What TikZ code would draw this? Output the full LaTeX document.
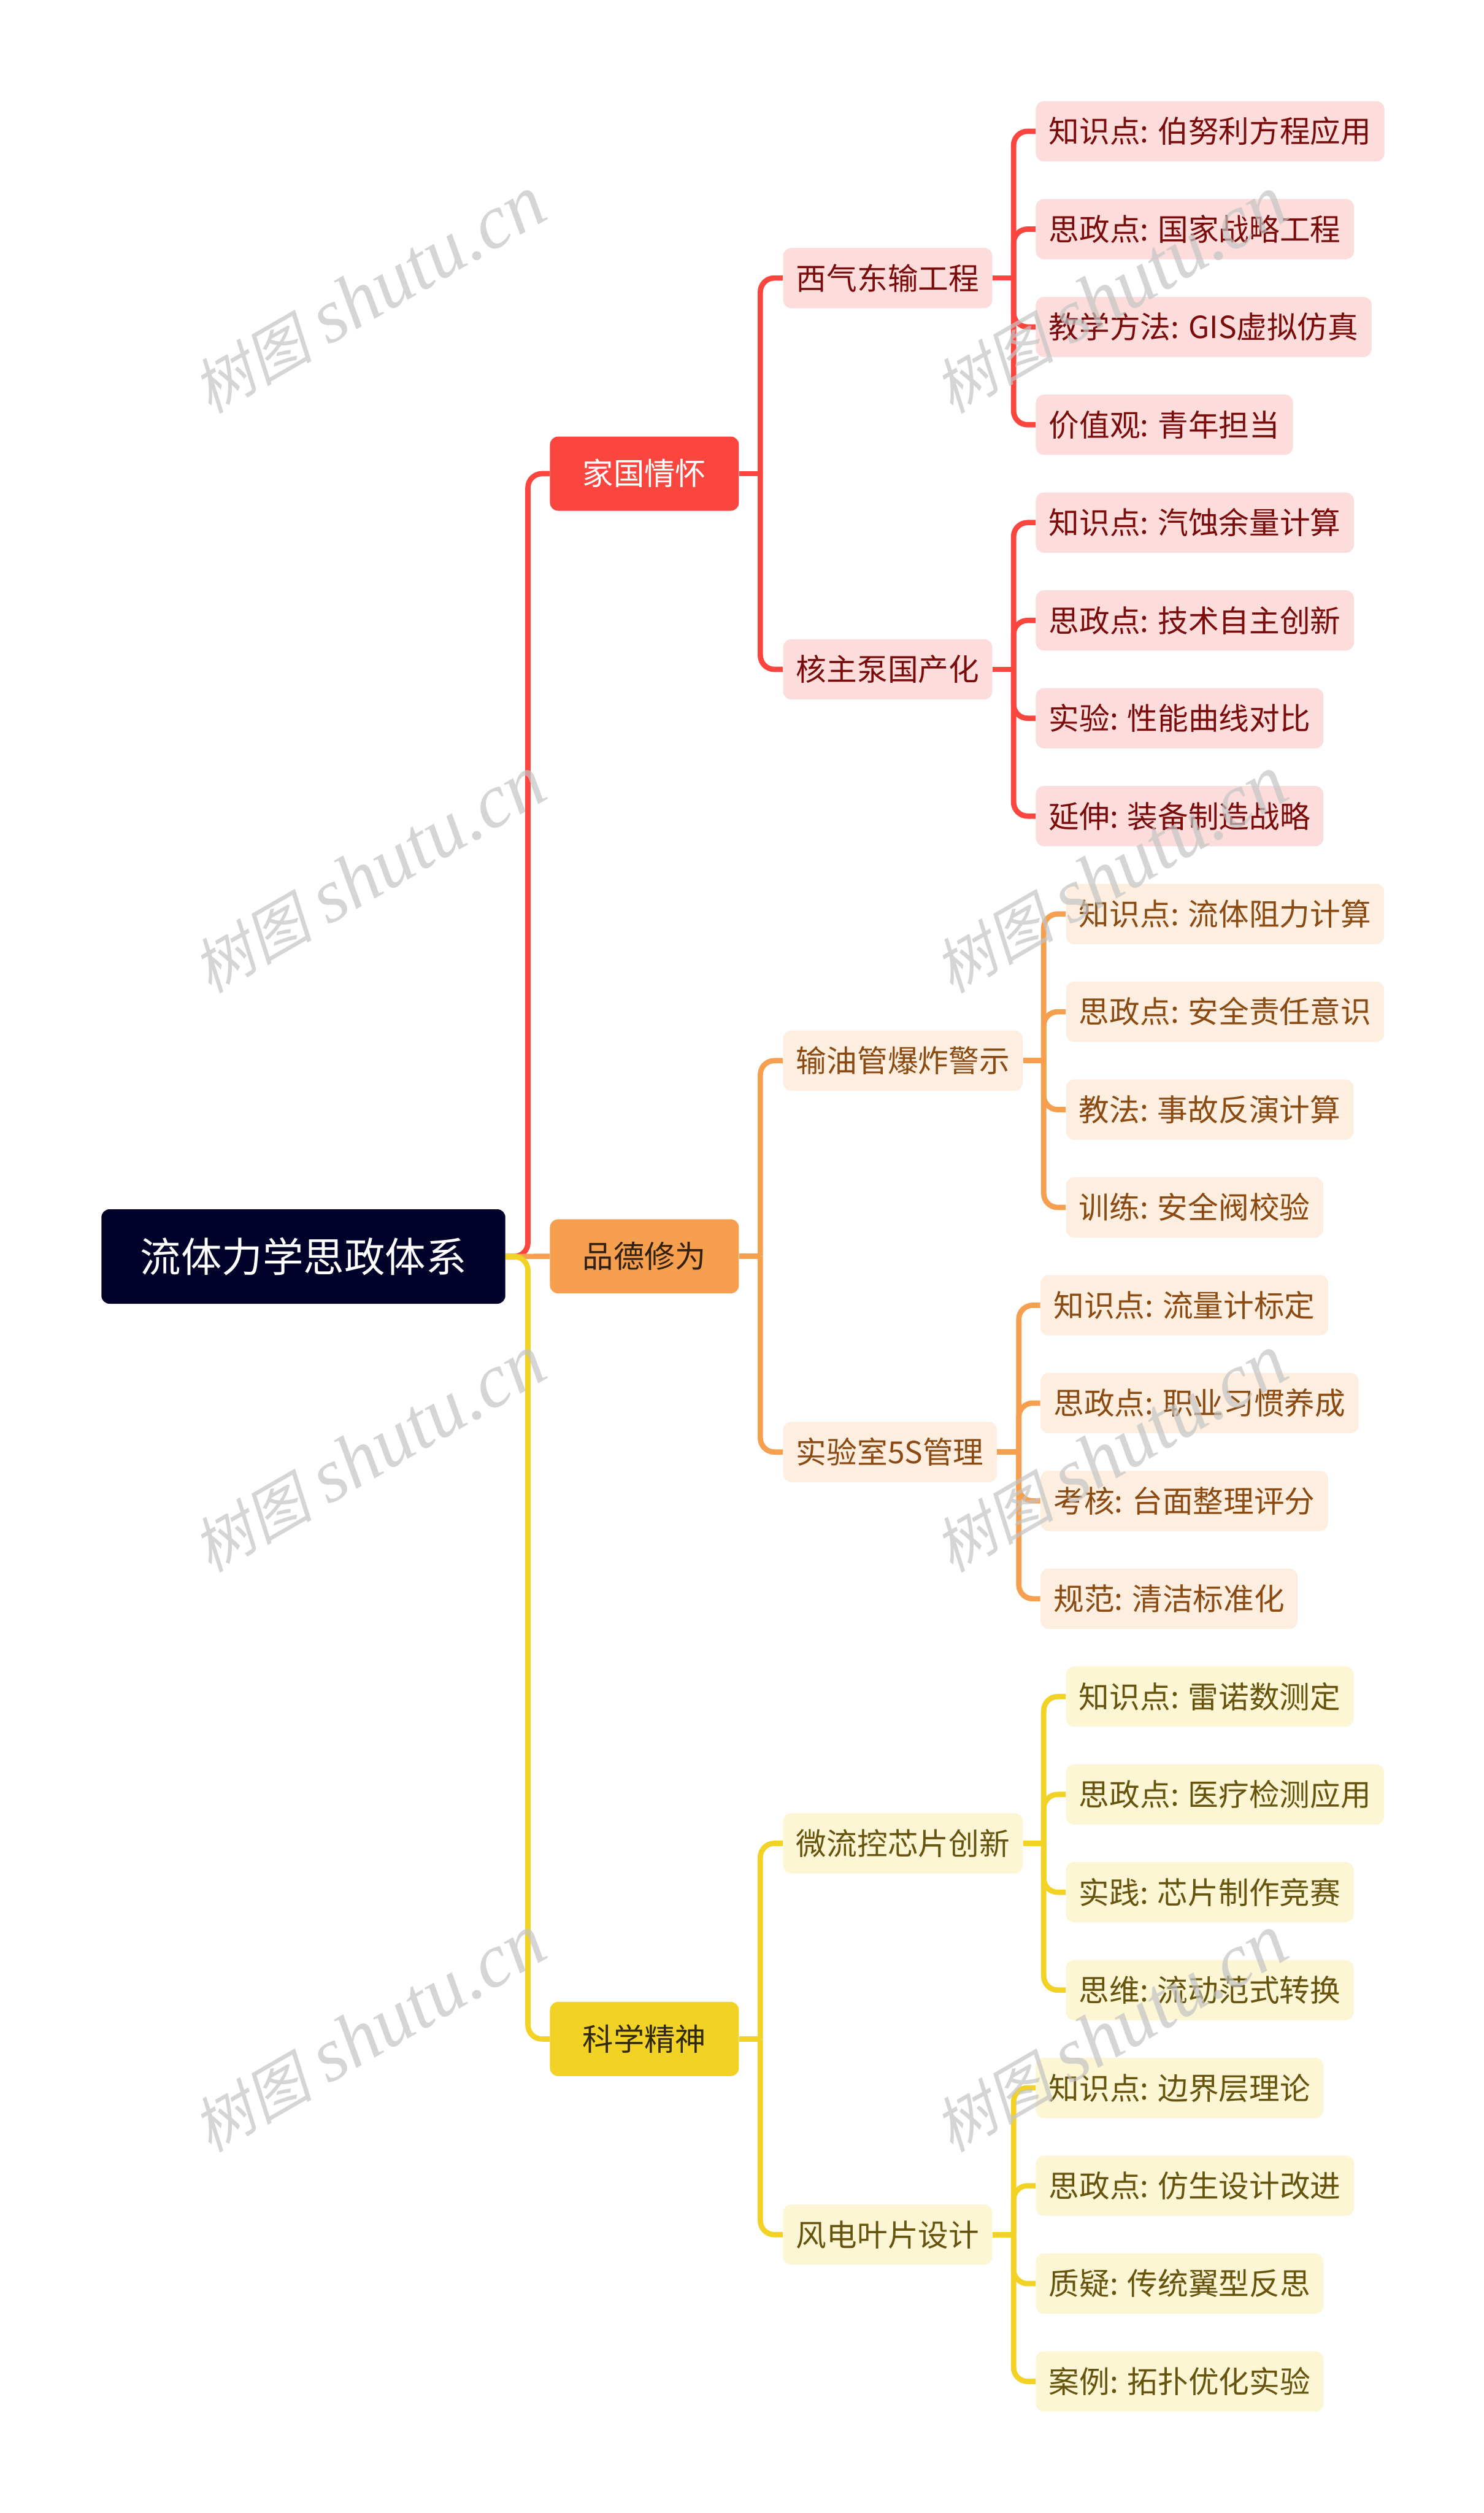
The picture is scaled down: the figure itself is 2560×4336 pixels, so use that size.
\documentclass[tikz,border=0pt]{standalone}
\usepackage{fontspec}
\setmainfont{Noto Sans CJK SC}
\newfontfamily\wmcjk[FakeSlant=0.22]{Noto Sans CJK SC}
\newfontfamily\wmlat{Liberation Serif Italic}
\definecolor{rootc}{HTML}{000229}
\definecolor{redm}{HTML}{FB4640}
\definecolor{redl}{HTML}{FDDCDC}
\definecolor{redt}{HTML}{7A0B0B}
\definecolor{orgm}{HTML}{F69F4E}
\definecolor{orgl}{HTML}{FDEEE0}
\definecolor{orgt}{HTML}{8A4A12}
\definecolor{yelm}{HTML}{F2D224}
\definecolor{yell}{HTML}{FCF6D4}
\definecolor{yelt}{HTML}{66540E}
\definecolor{wmc}{HTML}{C4C4C4}
\tikzset{
  x=0.5pt,y=-0.5pt,
  base/.style={rounded corners=7pt,inner sep=0pt,align=center,font=\fontsize{26.3pt}{30pt}\selectfont,text height=23pt,text depth=3pt},
  rootbox/.style={base,fill=rootc,text=white,minimum width=348.5pt,minimum height=81.5pt,font=\fontsize{35.2pt}{38pt}\selectfont,text height=30.9pt,text depth=4.3pt},
  mainred/.style={base,fill=redm,text=white,minimum width=163pt,minimum height=64pt,font=\fontsize{26.6pt}{30pt}\selectfont},
  mainorg/.style={base,fill=orgm,text=black!80!orgm,minimum width=163pt,minimum height=64pt,font=\fontsize{26.6pt}{30pt}\selectfont},
  mainyel/.style={base,fill=yelm,text=black!80!yelm,minimum width=163pt,minimum height=64pt,font=\fontsize{26.6pt}{30pt}\selectfont},
  subbox/.style={base,anchor=west,minimum height=52pt,inner xsep=11.3pt},
  subred/.style={subbox,fill=redl,text=redt},
  suborg/.style={subbox,fill=orgl,text=orgt},
  subyel/.style={subbox,fill=yell,text=yelt},
  conn/.style={line width=4.6pt,rounded corners=12pt},
  wmark/.style={text=wmc,opacity=.7,text opacity=.7,rotate=30,inner sep=0pt},
}
\newcommand{\lf}[5]{\node[#2] (#1) at (#3,{226.5+168.8*#4}) {#5};}
\newcommand{\kid}[3]{\draw[conn,#1] (#2) -- (#2 |- #3.west) -- (#3.west);}
\begin{document}
\begin{tikzpicture}
\useasboundingbox (0,0) rectangle (2560,4336);
\fill[white] (0,0) rectangle (2560,4336);
% root and main branches
\node[rootbox] (root) at (523.5,2168) {流体力学思政体系};
\node[mainred] (m1) at (1112,{226.5+168.8*3.5}) {家国情怀};
\node[mainorg] (m2) at (1112,{226.5+168.8*11.5}) {品德修为};
\node[mainyel] (m3) at (1112,{226.5+168.8*19.5}) {科学精神};
% second level
\lf{s1}{subred}{1351}{1.5}{西气东输工程}
\lf{s2}{subred}{1351}{5.5}{核主泵国产化}
\lf{s3}{suborg}{1351}{9.5}{输油管爆炸警示}
\lf{s4}{suborg}{1351}{13.5}{实验室5S管理}
\lf{s5}{subyel}{1351}{17.5}{微流控芯片创新}
\lf{s6}{subyel}{1351}{21.5}{风电叶片设计}
% leaves
\lf{a0}{subred}{1787}{0}{知识点: 伯努利方程应用}
\lf{a1}{subred}{1787}{1}{思政点: 国家战略工程}
\lf{a2}{subred}{1787}{2}{教学方法: GIS虚拟仿真}
\lf{a3}{subred}{1787}{3}{价值观: 青年担当}
\lf{b0}{subred}{1787}{4}{知识点: 汽蚀余量计算}
\lf{b1}{subred}{1787}{5}{思政点: 技术自主创新}
\lf{b2}{subred}{1787}{6}{实验: 性能曲线对比}
\lf{b3}{subred}{1787}{7}{延伸: 装备制造战略}
\lf{c0}{suborg}{1839}{8}{知识点: 流体阻力计算}
\lf{c1}{suborg}{1839}{9}{思政点: 安全责任意识}
\lf{c2}{suborg}{1839}{10}{教法: 事故反演计算}
\lf{c3}{suborg}{1839}{11}{训练: 安全阀校验}
\lf{d0}{suborg}{1795}{12}{知识点: 流量计标定}
\lf{d1}{suborg}{1795}{13}{思政点: 职业习惯养成}
\lf{d2}{suborg}{1795}{14}{考核: 台面整理评分}
\lf{d3}{suborg}{1795}{15}{规范: 清洁标准化}
\lf{e0}{subyel}{1839}{16}{知识点: 雷诺数测定}
\lf{e1}{subyel}{1839}{17}{思政点: 医疗检测应用}
\lf{e2}{subyel}{1839}{18}{实践: 芯片制作竞赛}
\lf{e3}{subyel}{1839}{19}{思维: 流动范式转换}
\lf{f0}{subyel}{1787}{20}{知识点: 边界层理论}
\lf{f1}{subyel}{1787}{21}{思政点: 仿生设计改进}
\lf{f2}{subyel}{1787}{22}{质疑: 传统翼型反思}
\lf{f3}{subyel}{1787}{23}{案例: 拓扑优化实验}
% trunks
\coordinate (t0) at (911,2168);
\coordinate (tr) at (1312,{226.5+168.8*3.5});
\coordinate (to) at (1312,{226.5+168.8*11.5});
\coordinate (ty) at (1312,{226.5+168.8*19.5});
\coordinate (j1) at (1749,{226.5+168.8*1.5});
\coordinate (j2) at (1749,{226.5+168.8*5.5});
\coordinate (j3) at (1801,{226.5+168.8*9.5});
\coordinate (j4) at (1758,{226.5+168.8*13.5});
\coordinate (j5) at (1801,{226.5+168.8*17.5});
\coordinate (j6) at (1749,{226.5+168.8*21.5});
\draw[conn,redm] (root.east) -- (t0) -- (t0 |- m1.west) -- (m1.west);
\draw[conn,orgm] (root.east) -- (m2.west);
\draw[conn,yelm] (root.east) -- (t0) -- (t0 |- m3.west) -- (m3.west);
\draw[conn,redm] (m1.east) -- (tr);
\draw[conn,orgm] (m2.east) -- (to);
\draw[conn,yelm] (m3.east) -- (ty);
\kid{redm}{tr}{s1}\kid{redm}{tr}{s2}
\kid{orgm}{to}{s3}\kid{orgm}{to}{s4}
\kid{yelm}{ty}{s5}\kid{yelm}{ty}{s6}
\draw[conn,redm] (s1.east) -- (j1);
\draw[conn,redm] (s2.east) -- (j2);
\draw[conn,orgm] (s3.east) -- (j3);
\draw[conn,orgm] (s4.east) -- (j4);
\draw[conn,yelm] (s5.east) -- (j5);
\draw[conn,yelm] (s6.east) -- (j6);
\kid{redm}{j1}{a0}\kid{redm}{j1}{a1}\kid{redm}{j1}{a2}\kid{redm}{j1}{a3}
\kid{redm}{j2}{b0}\kid{redm}{j2}{b1}\kid{redm}{j2}{b2}\kid{redm}{j2}{b3}
\kid{orgm}{j3}{c0}\kid{orgm}{j3}{c1}\kid{orgm}{j3}{c2}\kid{orgm}{j3}{c3}
\kid{orgm}{j4}{d0}\kid{orgm}{j4}{d1}\kid{orgm}{j4}{d2}\kid{orgm}{j4}{d3}
\kid{yelm}{j5}{e0}\kid{yelm}{j5}{e1}\kid{yelm}{j5}{e2}\kid{yelm}{j5}{e3}
\kid{yelm}{j6}{f0}\kid{yelm}{j6}{f1}\kid{yelm}{j6}{f2}\kid{yelm}{j6}{f3}
% watermarks
\foreach \wx/\wy/\wn in {636/509/w1,636/1509/w2,636/2509/w3,636/3509/w4,1916/509/w5,1916/1509/w6,1916/2509/w7,1916/3509/w8}{
  \node[wmark] (\wn) at (\wx,\wy) {\fontsize{52pt}{60pt}\selectfont{\wmcjk 树图}\hspace{14pt}\fontsize{66pt}{60pt}\selectfont{\wmlat shutu.cn}};
}
\end{tikzpicture}
\end{document}
